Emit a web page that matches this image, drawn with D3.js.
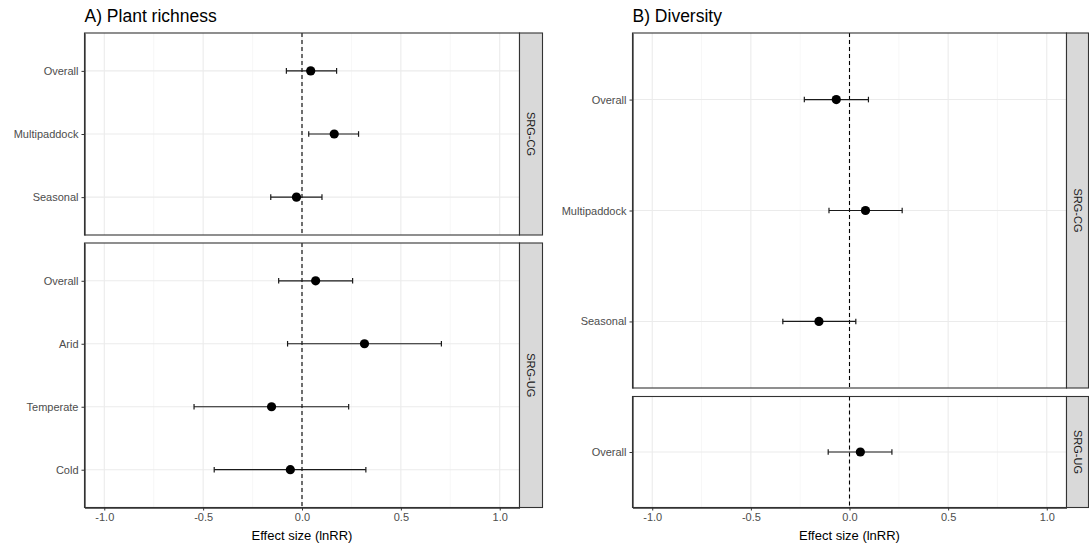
<!DOCTYPE html>
<html>
<head>
<meta charset="utf-8">
<script src="https://cdn.jsdelivr.net/npm/d3@7"></script>
<style>
  body { margin: 0; background: #fff; }
  svg { font-family: 'Liberation Sans', Arial, sans-serif; }
</style>
</head>
<body>
<svg width="1089" height="546"></svg>
<script>
// data: estimate with 95% CI (lnRR)
const xTicks = [-1.0, -0.5, 0.0, 0.5, 1.0];
const xMinor = [-0.75, -0.25, 0.25, 0.75];

const richnessCG = [
    { label: 'Overall', est: 0.044, lo: -0.079, hi: 0.175 },
    { label: 'Multipaddock', est: 0.163, lo: 0.034, hi: 0.286 },
    { label: 'Seasonal', est: -0.028, lo: -0.158, hi: 0.101 }
];
const richnessUG = [
    { label: 'Overall', est: 0.069, lo: -0.118, hi: 0.256 },
    { label: 'Arid', est: 0.316, lo: -0.073, hi: 0.705 },
    { label: 'Temperate', est: -0.154, lo: -0.546, hi: 0.236 },
    { label: 'Cold', est: -0.059, lo: -0.444, hi: 0.323 }
];
const diversityCG = [
    { label: 'Overall', est: -0.067, lo: -0.229, hi: 0.096 },
    { label: 'Multipaddock', est: 0.081, lo: -0.104, hi: 0.267 },
    { label: 'Seasonal', est: -0.155, lo: -0.338, hi: 0.032 }
];
const diversityUG = [
    { label: 'Overall', est: 0.055, lo: -0.108, hi: 0.215 }
];

const svg = d3.select('svg');

function drawPanel(cfg) {
    const g = svg.append('g');
    const x = d3.scaleLinear().domain([-1.1, 1.1]).range([cfg.x0, cfg.x1]);

    // title
    g.append('text')
        .attr('x', cfg.x0)
        .attr('y', 22)
        .style('font-size', '17.5px')
        .style('fill', '#000')
        .text(cfg.title);

    cfg.facets.forEach(f => {
        const y = d3.scalePoint()
            .domain(f.data.map(d => d.label))
            .range([f.top, f.bottom])
            .padding(0.6);
        const fg = g.append('g');

        // grid
        fg.selectAll('line.minor').data(xMinor).enter().append('line')
            .attr('x1', d => x(d)).attr('x2', d => x(d))
            .attr('y1', f.top).attr('y2', f.bottom)
            .style('stroke', '#F2F2F2').style('stroke-width', 0.6);
        fg.selectAll('line.majx').data(xTicks).enter().append('line')
            .attr('x1', d => x(d)).attr('x2', d => x(d))
            .attr('y1', f.top).attr('y2', f.bottom)
            .style('stroke', '#EBEBEB').style('stroke-width', 1.1);
        fg.selectAll('line.majy').data(f.data).enter().append('line')
            .attr('x1', cfg.x0).attr('x2', cfg.x1)
            .attr('y1', d => y(d.label)).attr('y2', d => y(d.label))
            .style('stroke', '#EBEBEB').style('stroke-width', 1.1);

        // reference line
        fg.append('line')
            .attr('x1', x(0)).attr('x2', x(0))
            .attr('y1', f.top).attr('y2', f.bottom)
            .style('stroke', '#000').style('stroke-width', 1.1)
            .style('stroke-dasharray', '4,3');

        // error bars
        const eb = fg.selectAll('g.eb').data(f.data).enter().append('g')
            .attr('transform', d => `translate(0, ${y(d.label)})`);
        eb.append('line')
            .attr('x1', d => x(d.lo)).attr('x2', d => x(d.hi))
            .style('stroke', '#1a1a1a').style('stroke-width', 1.2);
        eb.append('line')
            .attr('x1', d => x(d.lo)).attr('x2', d => x(d.lo))
            .attr('y1', -2.8).attr('y2', 2.8)
            .style('stroke', '#1a1a1a').style('stroke-width', 1.2);
        eb.append('line')
            .attr('x1', d => x(d.hi)).attr('x2', d => x(d.hi))
            .attr('y1', -2.8).attr('y2', 2.8)
            .style('stroke', '#1a1a1a').style('stroke-width', 1.2);
        eb.append('circle')
            .attr('cx', d => x(d.est))
            .attr('r', 4.6)
            .style('fill', '#000');

        // border
        fg.append('rect')
            .attr('x', cfg.x0).attr('y', f.top)
            .attr('width', cfg.x1 - cfg.x0).attr('height', f.bottom - f.top)
            .style('fill', 'none').style('stroke', '#333').style('stroke-width', 1.1);

        // y axis
        const yAxis = fg.append('g')
            .attr('transform', `translate(${cfg.x0}, 0)`)
            .call(d3.axisLeft(y).tickSize(3).tickSizeOuter(0).tickPadding(3));
        yAxis.select('.domain').style('stroke', '#333').style('stroke-width', 1.3);
        yAxis.selectAll('.tick line').style('stroke', '#333');
        yAxis.selectAll('.tick text')
            .style('font-size', '11px')
            .style('fill', '#4D4D4D')
            .style('font-family', "'Liberation Sans', Arial, sans-serif");

        // strip
        fg.append('rect')
            .attr('x', cfg.x1).attr('y', f.top)
            .attr('width', cfg.stripW).attr('height', f.bottom - f.top)
            .style('fill', '#D9D9D9').style('stroke', '#333').style('stroke-width', 1.1);
        const sx = cfg.x1 + cfg.stripW / 2, sy = (f.top + f.bottom) / 2;
        fg.append('text')
            .attr('transform', `translate(${sx}, ${sy}) rotate(90)`)
            .attr('text-anchor', 'middle')
            .attr('dy', '0.35em')
            .style('font-size', '11px')
            .style('fill', '#1A1A1A')
            .text(f.strip);
    });

    // x axis
    const last = cfg.facets[cfg.facets.length - 1];
    const xAxis = g.append('g')
        .attr('transform', `translate(0, ${last.bottom})`)
        .call(d3.axisBottom(x).tickValues(xTicks).tickFormat(d => d.toFixed(1))
            .tickSize(3).tickSizeOuter(0).tickPadding(3));
    xAxis.select('.domain').style('stroke', '#333').style('stroke-width', 1.3);
    xAxis.selectAll('.tick line').style('stroke', '#333');
    xAxis.selectAll('.tick text')
        .style('font-size', '11px')
        .style('fill', '#4D4D4D')
        .style('font-family', "'Liberation Sans', Arial, sans-serif");

    g.append('text')
        .attr('x', (cfg.x0 + cfg.x1) / 2)
        .attr('y', 540)
        .attr('text-anchor', 'middle')
        .style('font-size', '13px')
        .style('fill', '#000')
        .text('Effect size (lnRR)');
}

drawPanel({
    title: 'A) Plant richness',
    x0: 84.5, x1: 519.5, stripW: 23,
    facets: [
        { top: 33, bottom: 235, strip: 'SRG-CG', data: richnessCG },
        { top: 243, bottom: 507.5, strip: 'SRG-UG', data: richnessUG }
    ]
});

drawPanel({
    title: 'B) Diversity',
    x0: 632.5, x1: 1066.5, stripW: 22,
    facets: [
        { top: 33, bottom: 388, strip: 'SRG-CG', data: diversityCG },
        { top: 396.5, bottom: 507.5, strip: 'SRG-UG', data: diversityUG }
    ]
});
</script>
</body>
</html>
